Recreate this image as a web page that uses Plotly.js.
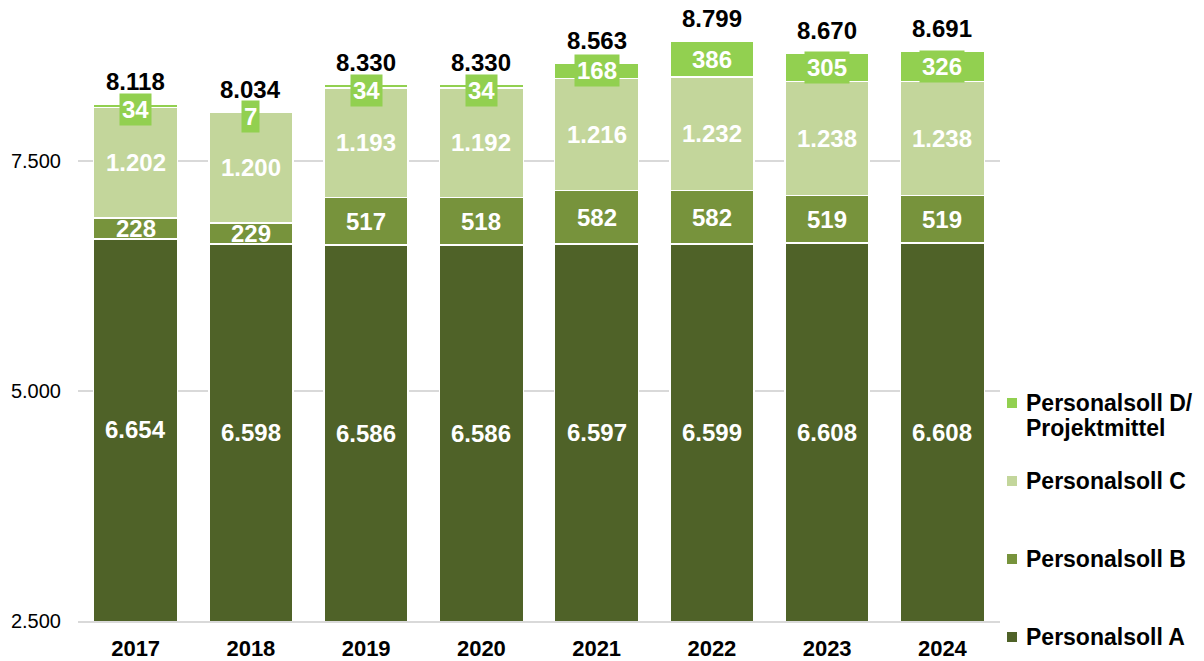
<!DOCTYPE html>
<html>
<head>
<meta charset="utf-8">
<script src="https://cdn.plot.ly/plotly-3.0.1.min.js"></script>
<style>html,body{margin:0;padding:0;background:#fff;}</style>
</head>
<body>
<div id="chart" style="width:1204px;height:661px;"></div>
<script>
const years = ['2017','2018','2019','2020','2021','2022','2023','2024'];
const sollA = [6654, 6598, 6586, 6586, 6597, 6599, 6608, 6608];
const sollB = [228, 229, 517, 518, 582, 582, 519, 519];
const sollC = [1202, 1200, 1193, 1192, 1216, 1232, 1238, 1238];
const sollD = [34, 7, 34, 34, 168, 386, 305, 326];
const seriesNames = ['Personalsoll A', 'Personalsoll B', 'Personalsoll C', 'Personalsoll D/<br>Projektmittel'];
const yTickVals = [2500, 5000, 7500];

const colors = ['#4F6228', '#77933C', '#C3D69B', '#92D050'];
const FONT = 'Liberation Sans, Arial, sans-serif';
const yRange = [2500, 9250];
const series = [sollA, sollB, sollC, sollD];

function fmt(n) { return String(n).replace(/\B(?=(\d{3})+(?!\d))/g, '.'); }

const traces = series.map((vals, i) => ({
  type: 'bar', x: years, y: vals, name: seriesNames[i],
  marker: { color: colors[i], line: { color: '#ffffff', width: 1.5 } },
  hoverinfo: 'x+y+name', showlegend: false
}));

// category axis: annotations addressed by category index
const annotations = [];
years.forEach((yr, k) => {
  let base = 0;
  series.forEach((vals, i) => {
    const lo = Math.max(base, yRange[0]);
    const hi = base + vals[k];
    const ann = {
      x: k, y: (lo + hi) / 2, xref: 'x', yref: 'y',
      text: fmt(vals[k]), showarrow: false,
      font: { family: FONT, size: 24, color: '#ffffff', weight: 'bold' },
      xanchor: 'center', yanchor: 'middle'
    };
    if (i === 3) {
      ann.bgcolor = colors[3]; ann.borderpad = 2;
      if (vals[k] < 100) ann.yshift = -4;
    }
    annotations.push(ann);
    base = hi;
  });
  annotations.push({
    x: k, y: base, xref: 'x', yref: 'y', text: fmt(base), showarrow: false,
    font: { family: FONT, size: 24, color: '#000000', weight: 'bold' },
    xanchor: 'center', yanchor: 'bottom', yshift: 7
  });
});

// custom legend (rows top to bottom: D, C, B, A)
const plotTop = 0, plotH = 621;
function py(p) { return (plotTop + plotH - p) / plotH; }
const legendRows = [637, 559, 481, 403];
const shapes = [];
series.forEach((vals, i) => {
  const yc = py(legendRows[i]);
  shapes.push({
    type: 'rect', xref: 'paper', yref: 'paper', xsizemode: 'pixel', ysizemode: 'pixel',
    xanchor: 1, yanchor: yc, x0: 7, x1: 17, y0: -5, y1: 5,
    fillcolor: colors[i], line: { width: 0 }
  });
  const lines = seriesNames[i].split('<br>');
  lines.forEach((ln, j) => {
    annotations.push({
      xref: 'paper', yref: 'paper', x: 1, xshift: 24, y: py(legendRows[i] + j * 25),
      text: ln, showarrow: false, xanchor: 'left', yanchor: 'middle', align: 'left',
      font: { family: FONT, size: 23, color: '#000000', weight: 'bold' }
    });
  });
});

const layout = {
  width: 1204, height: 661,
  margin: { l: 78, r: 204, t: 0, b: 40, pad: 0 },
  barmode: 'stack', bargap: 0.27,
  separators: ',.',
  paper_bgcolor: '#ffffff', plot_bgcolor: '#ffffff',
  font: { family: FONT, color: '#000000' },
  xaxis: {
    type: 'category', range: [-0.5, years.length - 0.5], autorange: false,
    showgrid: false, zeroline: false,
    showline: true, linecolor: '#d9d9d9', linewidth: 1.5,
    ticks: '', ticklabelstandoff: 7,
    tickfont: { family: FONT, size: 22, color: '#000000', weight: 'bold' }
  },
  yaxis: {
    range: yRange, autorange: false, tickvals: yTickVals, tickformat: ',',
    showgrid: true, gridcolor: '#d9d9d9', gridwidth: 1.5, zeroline: false,
    showline: false, ticks: '', ticklabelstandoff: 16,
    tickfont: { family: FONT, size: 20, color: '#000000' }
  },
  showlegend: false,
  annotations: annotations,
  shapes: shapes
};

Plotly.newPlot('chart', traces, layout, { displayModeBar: false, staticPlot: true });
</script>
</body>
</html>
